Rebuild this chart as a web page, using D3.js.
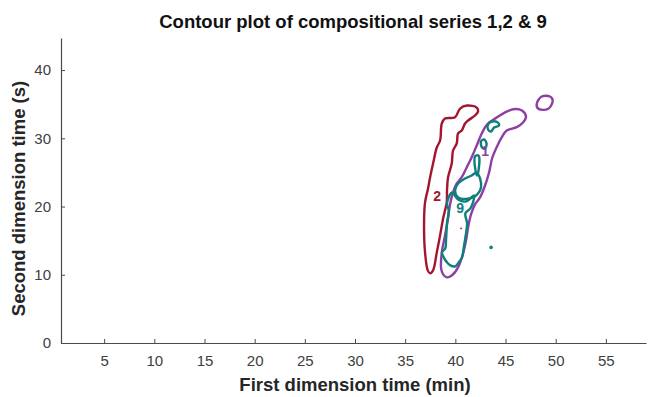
<!DOCTYPE html>
<html>
<head>
<meta charset="utf-8">
<script src="https://cdn.jsdelivr.net/npm/d3@7"></script>
<style>
  body { margin: 0; background: #fff; }
  text { font-family: "Liberation Sans", Arial, sans-serif; }
</style>
</head>
<body>
<svg id="chart" width="648" height="397"></svg>
<script>
// tick values
var xTicks = [5, 10, 15, 20, 25, 30, 35, 40, 45, 50, 55];
var yTicks = [0, 10, 20, 30, 40];

// contour lines, [first dim (min), second dim (s)]
var series2 = [[37.48,10.2],[37.25,10.64],[36.98,13.28],[36.88,17.23],[36.98,20.6],[37.28,22.65],
  [37.48,24.26],[37.78,26.31],[38.15,28.65],[38.48,29.68],[38.65,32.17],[38.97,32.9],[39.97,33.09],
  [40.47,34.36],[41.17,34.8],[42.13,34.51],[42.26,33.93],[41.96,33.34],[41.27,32.61],[40.97,32.17],
  [40.64,31.15],[40.27,30.71],[40.14,29.25],[39.77,28.21],[39.64,26.31],[39.27,24.26],[39.17,22.36],
  [39.14,20.6],[38.78,18.26],[38.48,15.77],[38.15,13.28],[37.78,10.64]];

var series1 = [[39.14,9.62],[38.78,10.06],[38.58,10.94],[38.65,13.28],[38.97,15.77],[39.27,18.26],
  [39.47,20.31],[39.77,22.06],[40.14,23.38],[40.64,24.3],[41.14,25.77],[41.63,27.23],[42.13,28.95],
  [42.63,30.7],[43.16,32.02],[44.12,33.04],[45.12,33.92],[45.95,34.29],[46.64,34.07],[47.04,33.19],
  [46.74,32.31],[46.12,31.63],[45.12,31.14],[44.62,30.12],[44.12,28.7],[43.66,27.04],[43.36,24.99],
  [42.96,23.08],[42.46,21.33],[41.96,20.31],[41.56,18.84],[41.27,16.94],[41.07,15.04],[40.77,13.14],
  [40.27,11.09],[39.67,9.92]];
var series1b = [[48.11,35.05],[48.61,36.12],[49.43,36.12],[49.7,35.54],[49.26,34.32],[48.27,34.32]];

var series9upper = [[42.13,24.98],[42.46,24.11],[42.56,22.8],[42.26,21.92],[41.76,21.33],[40.97,21.11],
  [40.27,21.33],[39.97,22.36],[40.27,23.38],[40.97,24.11],[41.63,24.55]];
var series9lower = [[39.67,22.06],[39.17,20.45],[39.34,19.43],[39.17,17.53],[39.07,15.04],[39.0,13.87],
  [38.67,13.28],[38.84,12.55],[39.17,11.82],[39.5,11.38],[40.0,11.23],[40.34,11.82],[40.67,12.55],
  [40.84,14.01],[41.0,15.48],[41.17,17.53],[41.0,18.99],[41.5,19.72],[41.76,20.6],[41.86,21.63],
  [41.07,20.75],[40.27,21.04]];
var series9spike = [[41.96,27.33],[42.31,27.48],[42.31,25.27],[42.16,24.55],[42.01,25.27]];
var series9blobA = [[42.56,29.55],[42.86,29.82],[43.11,29.24],[42.96,28.51],[42.66,28.65]];
var series9blobB = [[43.26,32.02],[43.66,32.46],[44.25,32.31],[44.35,31.87],[43.86,31.58],[43.56,31.0],[43.26,31.29]];

var dots = [{x: 43.56, y: 14.01, s: "9"}, {x: 40.57, y: 16.79, s: "2"}];
var labels = [{x: 38.18, y: 21.6, t: "2", s: "2"}, {x: 40.47, y: 19.72, t: "9", s: "9"}, {x: 42.96, y: 28.07, t: "1", s: "1"}];

var COLORS = {"1": "#8e3fa5", "2": "#a3162f", "9": "#0e7f7a"};
var AXIS_COLOR = "#4a4a4a";

var svg = d3.select("#chart");

var x = d3.scaleLinear().domain([0.7, 59]).range([61, 646]);
var y = d3.scaleLinear().domain([0, 44.7]).range([343, 38]);

// axes, ticks pointing inward like the original figure
var xAxis = svg.append("g")
    .attr("transform", "translate(0," + y(0) + ")")
    .call(d3.axisBottom(x).tickValues(xTicks).tickSize(-4).tickPadding(9).tickSizeOuter(0));
var yAxis = svg.append("g")
    .attr("transform", "translate(" + x.range()[0] + ",0)")
    .call(d3.axisLeft(y).tickValues(yTicks).tickSize(-4).tickPadding(10).tickSizeOuter(0));

[xAxis, yAxis].forEach(function(a) {
    a.select(".domain").attr("stroke", AXIS_COLOR).attr("stroke-width", 1.2);
    a.selectAll(".tick line").attr("stroke", AXIS_COLOR);
    a.selectAll(".tick text")
        .attr("fill", "#404040")
        .style("font-size", "15px")
        .style("font-family", "'Liberation Sans', Arial, sans-serif");
});
xAxis.selectAll(".tick text").attr("dy", "0.9em");

var line = d3.line()
    .x(function(d) { return x(d[0]); })
    .y(function(d) { return y(d[1]); })
    .curve(d3.curveCatmullRomClosed.alpha(0.5));

var paths = [
    {s: "2", d: series2},
    {s: "1", d: series1},
    {s: "1", d: series1b},
    {s: "9", d: series9lower},
    {s: "9", d: series9upper},
    {s: "9", d: series9spike},
    {s: "9", d: series9blobA},
    {s: "9", d: series9blobB}
];

var g_lines = svg.append("g");
g_lines.selectAll("path")
    .data(paths)
    .enter().append("path")
    .attr("d", function(p) { return line(p.d); })
    .attr("fill", "none")
    .attr("stroke", function(p) { return COLORS[p.s]; })
    .attr("stroke-width", 2.4)
    .attr("stroke-linejoin", "round");

g_lines.selectAll("circle")
    .data(dots)
    .enter().append("circle")
    .attr("cx", function(d) { return x(d.x); })
    .attr("cy", function(d) { return y(d.y); })
    .attr("r", function(d) { return d.s === "9" ? 1.8 : 0.9; })
    .attr("fill", function(d) { return COLORS[d.s]; });

g_lines.selectAll("text")
    .data(labels)
    .enter().append("text")
    .attr("x", function(d) { return x(d.x); })
    .attr("y", function(d) { return y(d.y); })
    .attr("text-anchor", "middle")
    .attr("dy", "0.35em")
    .attr("fill", function(d) { return COLORS[d.s]; })
    .style("font-size", "14px")
    .style("font-weight", "bold")
    .text(function(d) { return d.t; });

// title and axis labels
svg.append("text")
    .attr("x", 353).attr("y", 28)
    .attr("text-anchor", "middle")
    .style("font-size", "18.5px").style("font-weight", "bold")
    .attr("fill", "#111")
    .text("Contour plot of compositional series 1,2 & 9");

svg.append("text")
    .attr("x", 355).attr("y", 391)
    .attr("text-anchor", "middle")
    .style("font-size", "18.5px").style("font-weight", "bold")
    .attr("fill", "#262626")
    .text("First dimension time (min)");

svg.append("text")
    .attr("transform", "translate(25," + ((y(0) + 38) / 2 + 8) + ") rotate(-90)")
    .attr("text-anchor", "middle")
    .style("font-size", "18.5px").style("font-weight", "bold")
    .attr("fill", "#262626")
    .text("Second dimension time (s)");
</script>
</body>
</html>
